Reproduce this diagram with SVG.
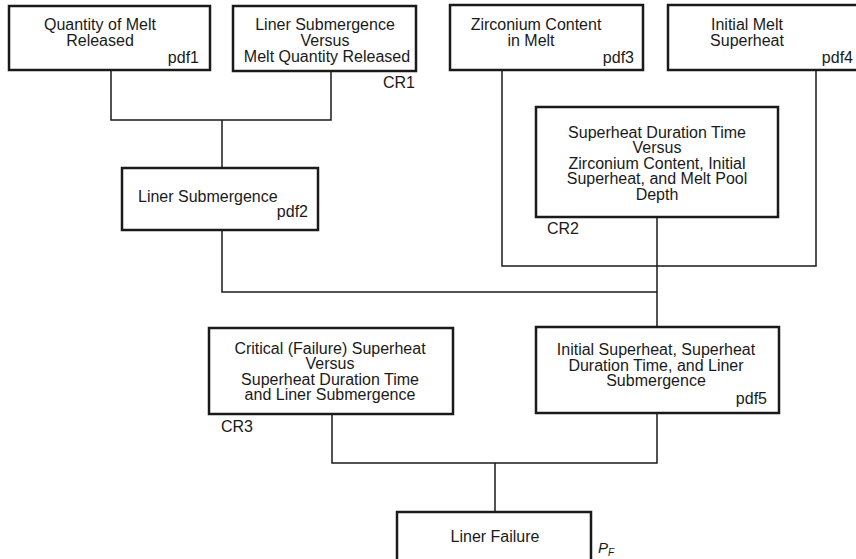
<svg xmlns="http://www.w3.org/2000/svg" width="856" height="559" viewBox="0 0 856 559">
<style>
.box{fill:#fff;stroke:#1a1a1a;stroke-width:2.5}
.con{fill:none;stroke:#1a1a1a;stroke-width:1.5}
text{font-family:"Liberation Sans",Arial,sans-serif;font-size:16px;fill:#1a1a1a}
.c{text-anchor:middle}
.r{text-anchor:end}
</style>
<rect width="856" height="559" fill="#fff"/>
<g id="connectors">
<path class="con" d="M111,70 V120 H331 V71"/>
<path class="con" d="M222,120 V168"/>
<path class="con" d="M222,230 V292 H657"/>
<path class="con" d="M502,70 V266 H816 V70"/>
<path class="con" d="M657,217 V327"/>
<path class="con" d="M332,414 V463 H657 V413"/>
<path class="con" d="M495,463 V512"/>
</g>
<g id="pdf1">
<rect class="box" x="9" y="6" width="201" height="64"/>
<text class="c"><tspan x="100" y="30">Quantity of Melt</tspan><tspan x="100" y="46">Released</tspan></text>
<text class="r" x="199" y="63">pdf1</text>
</g>
<g id="cr1">
<rect class="box" x="233" y="6" width="183" height="65"/>
<text class="c"><tspan x="325" y="30">Liner Submergence</tspan><tspan x="325" y="46">Versus</tspan><tspan x="327" y="62">Melt Quantity Released</tspan></text>
<text class="r" x="415" y="88">CR1</text>
</g>
<g id="pdf3">
<rect class="box" x="450" y="5" width="193" height="65"/>
<text class="c"><tspan x="536" y="30">Zirconium Content</tspan><tspan x="531" y="46">in Melt</tspan></text>
<text class="r" x="634" y="63">pdf3</text>
</g>
<g id="pdf4">
<rect class="box" x="668" y="5" width="192" height="65"/>
<text class="c"><tspan x="747" y="30">Initial Melt</tspan><tspan x="747" y="46">Superheat</tspan></text>
<text class="r" x="853" y="63">pdf4</text>
</g>
<g id="pdf2">
<rect class="box" x="122" y="168" width="196" height="62"/>
<text x="138" y="202">Liner Submergence</text>
<text class="r" x="308" y="217">pdf2</text>
</g>
<g id="cr2">
<rect class="box" x="536" y="107" width="242" height="110"/>
<text class="c"><tspan x="657" y="137.5">Superheat Duration Time</tspan><tspan x="657" y="153">Versus</tspan><tspan x="657" y="168.5">Zirconium Content, Initial</tspan><tspan x="657" y="184">Superheat, and Melt Pool</tspan><tspan x="657" y="199.5">Depth</tspan></text>
<text x="547" y="234">CR2</text>
</g>
<g id="cr3">
<rect class="box" x="209" y="328" width="244" height="86"/>
<text class="c"><tspan x="330" y="353.5">Critical (Failure) Superheat</tspan><tspan x="330" y="369">Versus</tspan><tspan x="330" y="384.5">Superheat Duration Time</tspan><tspan x="330" y="400">and Liner Submergence</tspan></text>
<text x="221" y="432">CR3</text>
</g>
<g id="pdf5">
<rect class="box" x="536" y="327" width="243" height="86"/>
<text class="c"><tspan x="656" y="355">Initial Superheat, Superheat</tspan><tspan x="656" y="370.5">Duration Time, and Liner</tspan><tspan x="656" y="386">Submergence</tspan></text>
<text class="r" x="767" y="404">pdf5</text>
</g>
<g id="liner-failure">
<rect class="box" x="397" y="512" width="194" height="56"/>
<text class="c" x="495" y="542">Liner Failure</text>
<text x="598" y="553" style="font-style:italic;font-size:15px">P<tspan dy="3" style="font-size:10px">F</tspan></text>
</g>
</svg>
